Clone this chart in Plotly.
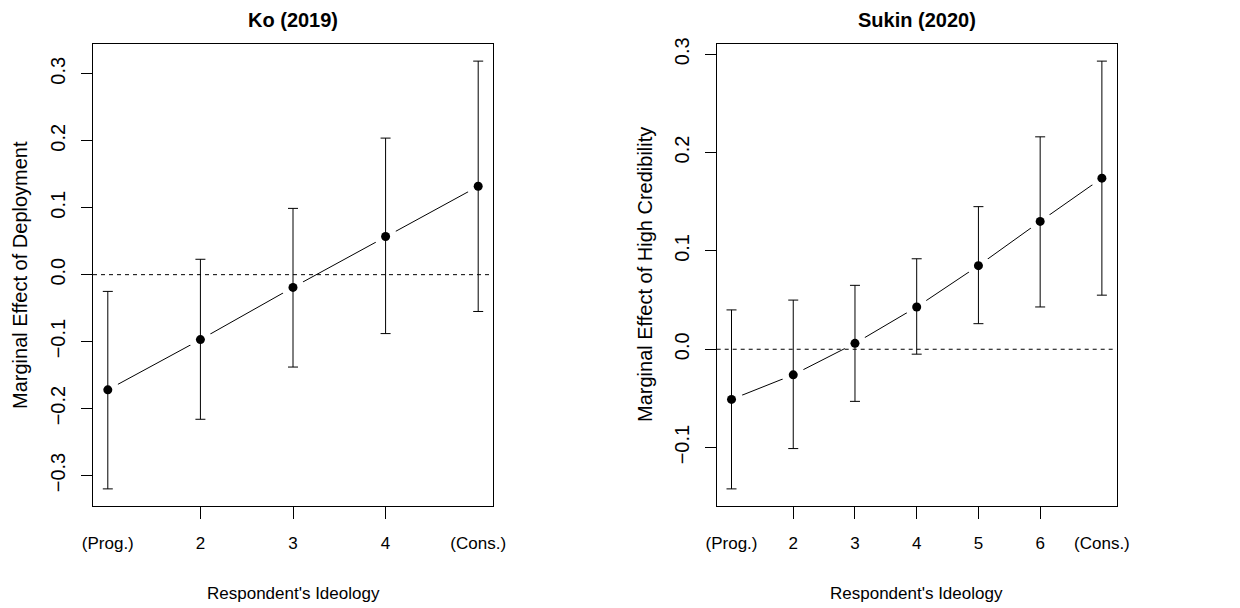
import plotly.graph_objects as go

# ---- data ----
ko_labels = ["(Prog.)", "2", "3", "4", "(Cons.)"]
ko_x = [1, 2, 3, 4, 5]
ko_est = [-0.172, -0.097, -0.019, 0.057, 0.132]
ko_lo = [-0.320, -0.216, -0.138, -0.088, -0.055]
ko_hi = [-0.025, 0.023, 0.099, 0.204, 0.319]

su_labels = ["(Prog.)", "2", "3", "4", "5", "6", "(Cons.)"]
su_x = [1, 2, 3, 4, 5, 6, 7]
su_est = [-0.051, -0.026, 0.006, 0.043, 0.085, 0.130, 0.174]
su_lo = [-0.142, -0.101, -0.053, -0.005, 0.026, 0.043, 0.055]
su_hi = [0.040, 0.050, 0.065, 0.092, 0.145, 0.216, 0.293]

FONT = "Liberation Sans, Arial, Helvetica, sans-serif"

fig = go.Figure()


def add_panel(xs, est, lo, hi, xa, ya):
    # connecting line
    fig.add_trace(go.Scatter(x=xs, y=est, mode="lines", line=dict(color="black", width=1),
                             xaxis=xa, yaxis=ya, showlegend=False, hoverinfo="skip"))
    # white halos to create gaps (R type="b")
    fig.add_trace(go.Scatter(x=xs, y=est, mode="markers", marker=dict(color="white", size=23),
                             xaxis=xa, yaxis=ya, showlegend=False, hoverinfo="skip"))
    # error bars + points
    plus = [h - e for h, e in zip(hi, est)]
    minus = [e - l for e, l in zip(est, lo)]
    fig.add_trace(go.Scatter(x=xs, y=est, mode="markers", marker=dict(color="black", size=9),
                             error_y=dict(type="data", symmetric=False, array=plus, arrayminus=minus,
                                          color="black", thickness=1, width=5),
                             xaxis=xa, yaxis=ya, showlegend=False))


add_panel(ko_x, ko_est, ko_lo, ko_hi, "x", "y")
add_panel(su_x, su_est, su_lo, su_hi, "x2", "y2")


def yrange(lo, hi):
    a, b = min(lo), max(hi)
    d = (b - a) * 0.04
    return [a - d, b + d]


def xrange(xs):
    d = (max(xs) - min(xs)) * 0.04
    return [min(xs) - d, max(xs) + d]


W, H = 1240, 608
top, bottom = 44, 506
ydom = [(H - bottom) / H, (H - top) / H]

common_x = dict(showline=True, mirror=True, linecolor="black", linewidth=1, ticks="",
                showgrid=False, zeroline=False, automargin=False,
                tickfont=dict(family=FONT, size=17, color="black"),
                ticklabelstandoff=22)
common_y = dict(showline=True, mirror=True, linecolor="black", linewidth=1, ticks="outside",
                ticklen=11, tickcolor="black", tickwidth=1, showgrid=False, zeroline=False,
                automargin=False, tickangle=-90,
                tickfont=dict(family=FONT, size=20, color="black"),
                tickformat=".1f", ticklabelstandoff=8)

fig.update_layout(
    template="none",
    width=W, height=H, autosize=False,
    margin=dict(l=0, r=0, t=0, b=0, pad=0),
    paper_bgcolor="white", plot_bgcolor="white",
    xaxis=dict(domain=[93 / W, 493 / W], range=xrange(ko_x), tickmode="array",
               tickvals=ko_x, ticktext=ko_labels,
               minor=dict(tickmode="array", tickvals=ko_x[1:-1], ticks="outside", ticklen=12,
                          tickcolor="black", tickwidth=1, showgrid=False),
               anchor="y", **common_x),
    yaxis=dict(domain=ydom, range=yrange(ko_lo, ko_hi), tickmode="array",
               tickvals=[-0.3, -0.2, -0.1, 0.0, 0.1, 0.2, 0.3], anchor="x", **common_y),
    xaxis2=dict(domain=[716.7 / W, 1116.7 / W], range=xrange(su_x), tickmode="array",
                tickvals=su_x, ticktext=su_labels,
                minor=dict(tickmode="array", tickvals=su_x[1:-1], ticks="outside", ticklen=12,
                           tickcolor="black", tickwidth=1, showgrid=False),
                anchor="y2", **common_x),
    yaxis2=dict(domain=ydom, range=yrange(su_lo, su_hi), tickmode="array",
                tickvals=[-0.1, 0.0, 0.1, 0.2, 0.3], anchor="x2", **common_y),
)

# dashed zero reference lines
for xr, yr in [("x domain", "y"), ("x2 domain", "y2")]:
    fig.add_shape(type="line", xref=xr, yref=yr, x0=0, x1=1, y0=0, y1=0,
                  line=dict(color="black", width=1, dash="4px,4px"), layer="above")

# titles and axis labels
ann = [
    dict(text="<b>Ko (2019)</b>", x=293 / W, y=1 - 20 / H, size=20, angle=0),
    dict(text="<b>Sukin (2020)</b>", x=916.7 / W, y=1 - 20 / H, size=20, angle=0),
    dict(text="Respondent's Ideology", x=293 / W, y=1 - 593 / H, size=17, angle=0),
    dict(text="Respondent's Ideology", x=916.7 / W, y=1 - 593 / H, size=17, angle=0),
    dict(text="Marginal Effect of Deployment", x=20 / W, y=1 - 275 / H, size=20, angle=-90),
    dict(text="Marginal Effect of High Credibility", x=645 / W, y=1 - 275 / H, size=20, angle=-90),
]
for a in ann:
    fig.add_annotation(text=a["text"], x=a["x"], y=a["y"], xref="paper", yref="paper",
                       showarrow=False, xanchor="center", yanchor="middle", textangle=a["angle"],
                       font=dict(family=FONT, size=a["size"], color="black"))

fig.write_html("out.html", config={"displayModeBar": False},
               post_script="document.body.style.margin='0';document.body.style.overflow='hidden';")
